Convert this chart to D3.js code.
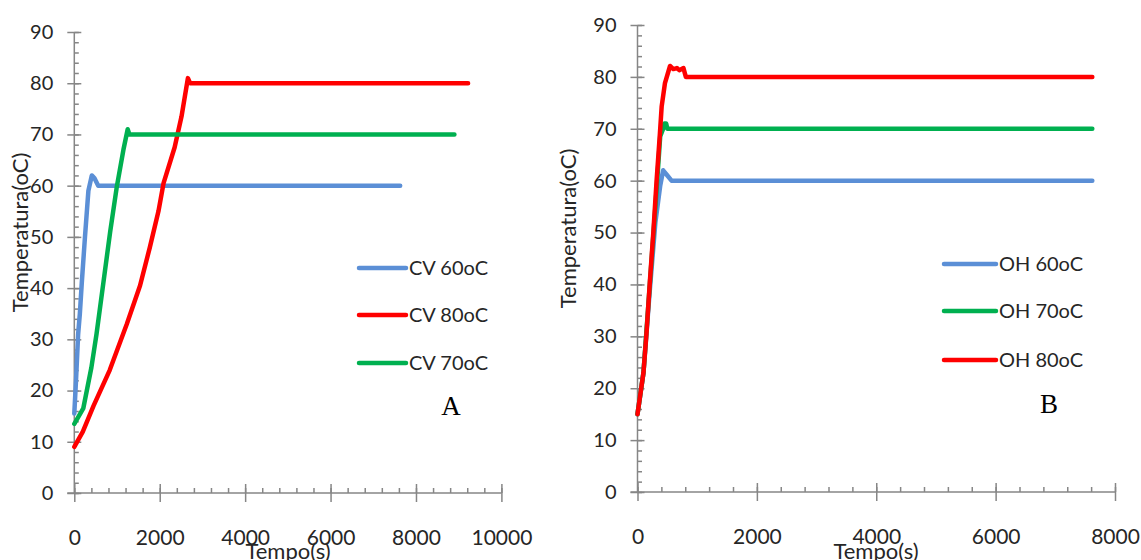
<!DOCTYPE html>
<html>
<head>
<meta charset="utf-8">
<script src="https://cdn.jsdelivr.net/npm/d3@7"></script>
<style>
  body { margin: 0; background: #fff; }
  svg { display: block; }
  .tick text { font-family: Lato, "Open Sans", sans-serif; fill: #262626; }
</style>
</head>
<body>
<div id="chart"></div>
<script>
// data: [tempo (s), temperatura (oC)]
const cv60 = [[0,15.5],[40,22],[90,31],[130,35],[175,41],[250,50],[330,59],[410,62],[470,61.5],[560,60],[7630,60]];
const cv80 = [[0,9],[200,12],[450,17],[830,24],[1230,33],[1540,40.5],[1770,48],[1970,55],[2090,60.5],[2350,67.5],[2510,73.5],[2660,81],[2710,80],[9220,80]];
const cv70 = [[0,13.5],[210,16.5],[400,24.5],[520,31],[680,41],[840,51],[990,59.5],[1150,67],[1250,71],[1290,70],[8900,70]];

const oh60 = [[0,15],[100,23],[200,38],[300,52],[380,59],[430,62],[500,61],[570,60],[7620,60]];
const oh70 = [[0,15],[100,23],[200,39],[300,55],[380,68.5],[430,70],[450,71],[480,71],[500,70],[7620,70]];
const oh80 = [[0,15],[100,23],[150,30.5],[210,41],[265,50],[320,60],[375,69],[405,74.3],[460,78.8],[545,82.1],[600,81.5],[660,81.7],[700,81.3],[770,81.7],[810,80],[7620,80]];

const yTicks = [0, 10, 20, 30, 40, 50, 60, 70, 80, 90];
const xTicksA = [0, 2000, 4000, 6000, 8000, 10000];
const xTicksB = [0, 2000, 4000, 6000, 8000];

const colors = { blue: "#5B8FD6", red: "#FF0000", green: "#00B050" };

const panels = [
  {
    letter: "A", xMax: 10000, xTicks: xTicksA,
    xRange: [74.3, 501.4], yRange: [493, 32],
    series: [
      { name: "CV 60oC", data: cv60, color: colors.blue },
      { name: "CV 80oC", data: cv80, color: colors.red },
      { name: "CV 70oC", data: cv70, color: colors.green }
    ],
    legend: { x: 359, len: 47, y: [268, 315, 363] },
    letterPos: [451, 415], yTitleX: 28, xTitleX: 288
  },
  {
    letter: "B", xMax: 8000, xTicks: xTicksB,
    xRange: [637.5, 1115], yRange: [492, 25],
    series: [
      { name: "OH 60oC", data: oh60, color: colors.blue },
      { name: "OH 70oC", data: oh70, color: colors.green },
      { name: "OH 80oC", data: oh80, color: colors.red }
    ],
    legend: { x: 944, len: 52, y: [264, 311, 360] },
    letterPos: [1049, 413], yTitleX: 576, xTitleX: 876
  }
];

const svg = d3.select("#chart").append("svg")
  .attr("width", 1141)
  .attr("height", 560);

svg.append("rect").attr("width", 1141).attr("height", 560).attr("fill", "#fff");

const axisColor = "#868686";

panels.forEach(p => {
  const x = d3.scaleLinear().domain([0, p.xMax]).range(p.xRange);
  const y = d3.scaleLinear().domain([0, 90]).range(p.yRange);
  const g = svg.append("g");

  // y axis: major ticks crossing the line, minor ticks inside
  const yAxis = g.append("g")
    .attr("transform", `translate(${p.xRange[0]},0)`)
    .call(d3.axisLeft(y).tickValues(yTicks).tickSize(7).tickPadding(14));
  yAxis.selectAll("text").style("font-size", "20px");
  g.append("g")
    .attr("transform", `translate(${p.xRange[0]},0)`)
    .call(d3.axisRight(y).tickValues(yTicks).tickSize(7).tickFormat(""))
    .call(a => a.select(".domain").remove());
  g.append("g")
    .attr("transform", `translate(${p.xRange[0]},0)`)
    .call(d3.axisRight(y).tickValues(d3.range(0, 91, 2)).tickSize(4.5).tickFormat(""))
    .call(a => a.select(".domain").remove());

  // x axis
  const xAxis = g.append("g")
    .attr("transform", `translate(0,${p.yRange[0]})`)
    .call(d3.axisBottom(x).tickValues(p.xTicks).tickSize(9).tickFormat(d3.format("d")));
  xAxis.selectAll("text")
    .attr("y", 52).attr("dy", null)
    .style("font-size", "21px");
  g.append("g")
    .attr("transform", `translate(0,${p.yRange[0]})`)
    .call(d3.axisTop(x).tickValues(p.xTicks).tickSize(9).tickFormat(""))
    .call(a => a.select(".domain").remove());
  g.append("g")
    .attr("transform", `translate(0,${p.yRange[0]})`)
    .call(d3.axisTop(x).tickValues(d3.range(0, p.xMax + 1, 400)).tickSize(5).tickFormat(""))
    .call(a => a.select(".domain").remove());

  g.selectAll(".domain, .tick line").attr("stroke", axisColor).attr("stroke-width", 1.5);
  g.selectAll(".domain").attr("d", null);
  // plain axis lines (no end caps)
  g.append("line")
    .attr("x1", p.xRange[0]).attr("x2", p.xRange[0])
    .attr("y1", y(90)).attr("y2", y(0))
    .attr("stroke", axisColor).attr("stroke-width", 1.5);
  g.append("line")
    .attr("x1", p.xRange[0] - 7).attr("x2", x(p.xMax))
    .attr("y1", y(0)).attr("y2", y(0))
    .attr("stroke", axisColor).attr("stroke-width", 1.5);

  // series
  const line = d3.line().x(d => x(d[0])).y(d => y(d[1]));
  g.selectAll(".series")
    .data(p.series)
    .join("path")
    .attr("class", "series")
    .attr("d", d => line(d.data))
    .attr("fill", "none")
    .attr("stroke", d => d.color)
    .attr("stroke-width", 4.5)
    .attr("stroke-linejoin", "round")
    .attr("stroke-linecap", "round");

  // legend
  const lg = g.selectAll(".legend")
    .data(p.series)
    .join("g")
    .attr("class", "legend")
    .attr("transform", (d, i) => `translate(${p.legend.x},${p.legend.y[i]})`);
  lg.append("line")
    .attr("x1", 0).attr("x2", p.legend.len)
    .attr("stroke", d => d.color)
    .attr("stroke-width", 4.5)
    .attr("stroke-linecap", "round");
  lg.append("text")
    .attr("x", p.legend.len + 3)
    .attr("y", 7)
    .attr("font-family", "Lato, 'Open Sans', sans-serif")
    .attr("font-size", 20)
    .attr("fill", "#262626")
    .text(d => d.name);

  // panel letter
  g.append("text")
    .attr("x", p.letterPos[0]).attr("y", p.letterPos[1])
    .attr("text-anchor", "middle")
    .attr("font-family", "'Liberation Serif', 'DejaVu Serif', serif")
    .attr("font-size", 27)
    .attr("fill", "#000")
    .text(p.letter);

  // axis titles
  g.append("text")
    .attr("transform", `translate(${p.yTitleX},${(p.yRange[0] + p.yRange[1]) / 2 - 30}) rotate(-90)`)
    .attr("text-anchor", "middle")
    .attr("font-family", "Lato, 'Open Sans', sans-serif")
    .attr("font-size", 22)
    .attr("fill", "#262626")
    .text("Temperatura(oC)");
  g.append("text")
    .attr("x", p.xTitleX).attr("y", 559)
    .attr("text-anchor", "middle")
    .attr("font-family", "Lato, 'Open Sans', sans-serif")
    .attr("font-size", 22)
    .attr("fill", "#262626")
    .text("Tempo(s)");
});
</script>
</body>
</html>
